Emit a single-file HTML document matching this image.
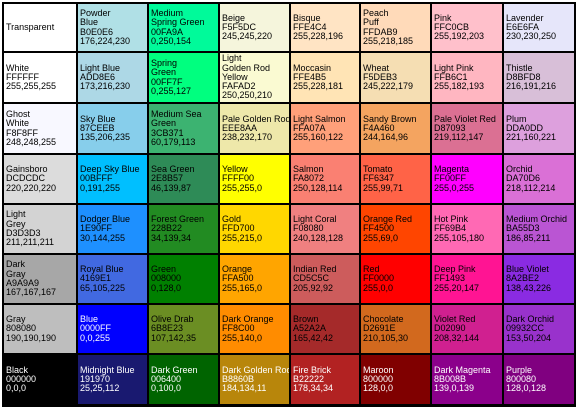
<!DOCTYPE html>
<html><head><meta charset="utf-8"><style>
html,body{margin:0;padding:0;background:#fff;width:577px;height:409px;overflow:hidden}
#grid{position:absolute;left:2px;top:2px;width:574px;height:405px;background:#000}
.cell{position:absolute;display:flex;align-items:center;box-sizing:border-box;padding-left:2px;font-family:"Liberation Sans","DejaVu Sans",sans-serif;font-size:9px;line-height:9.3px;color:#000;letter-spacing:0;white-space:nowrap;overflow:hidden}
</style></head><body>
<div id="grid"></div>
<script>
const colLines=[2,76,147,218,289,359,430,502,574];
const rowLines=[2,51,102,153,203,253,303,353,404];
const names=[
["Transparent","Powder<br>Blue","Medium<br>Spring Green","Beige","Bisque","Peach<br>Puff","Pink","Lavender"],
["White","Light Blue","Spring<br>Green","Light<br>Golden Rod<br>Yellow","Moccasin","Wheat","Light Pink","Thistle"],
["Ghost<br>White","Sky Blue","Medium Sea<br>Green","Pale Golden Rod","Light Salmon","Sandy Brown","Pale Violet Red","Plum"],
["Gainsboro","Deep Sky Blue","Sea Green","Yellow","Salmon","Tomato","Magenta","Orchid"],
["Light<br>Grey","Dodger Blue","Forest Green","Gold","Light Coral","Orange Red","Hot Pink","Medium Orchid"],
["Dark<br>Gray","Royal Blue","Green","Orange","Indian Red","Red","Deep Pink","Blue Violet"],
["Gray","Blue","Olive Drab","Dark Orange","Brown","Chocolate","Violet Red","Dark Orchid"],
["Black","Midnight Blue","Dark Green","Dark Golden Rod","Fire Brick","Maroon","Dark Magenta","Purple"]];
const hexes=[
["","B0E0E6","00FA9A","F5F5DC","FFE4C4","FFDAB9","FFC0CB","E6E6FA"],
["FFFFFF","ADD8E6","00FF7F","FAFAD2","FFE4B5","F5DEB3","FFB6C1","D8BFD8"],
["F8F8FF","87CEEB","3CB371","EEE8AA","FFA07A","F4A460","D87093","DDA0DD"],
["DCDCDC","00BFFF","2E8B57","FFFF00","FA8072","FF6347","FF00FF","DA70D6"],
["D3D3D3","1E90FF","228B22","FFD700","F08080","FF4500","FF69B4","BA55D3"],
["A9A9A9","4169E1","008000","FFA500","CD5C5C","FF0000","FF1493","8A2BE2"],
["808080","0000FF","6B8E23","FF8C00","A52A2A","D2691E","D02090","09932CC"],
["000000","191970","006400","B8860B","B22222","800000","8B008B","800080"]];
const rgbs=[
["","176,224,230","0,250,154","245,245,220","255,228,196","255,218,185","255,192,203","230,230,250"],
["255,255,255","173,216,230","0,255,127","250,250,210","255,228,181","245,222,179","255,182,193","216,191,216"],
["248,248,255","135,206,235","60,179,113","238,232,170","255,160,122","244,164,96","219,112,147","221,160,221"],
["220,220,220","0,191,255","46,139,87","255,255,0","250,128,114","255,99,71","255,0,255","218,112,214"],
["211,211,211","30,144,255","34,139,34","255,215,0","240,128,128","255,69,0","255,105,180","186,85,211"],
["167,167,167","65,105,225","0,128,0","255,165,0","205,92,92","255,0,0","255,20,147","138,43,226"],
["190,190,190","0,0,255","107,142,35","255,140,0","165,42,42","210,105,30","208,32,144","153,50,204"],
["0,0,0","25,25,112","0,100,0","184,134,11","178,34,34","128,0,0","139,0,139","128,0,128"]];
const whiteText=[[6,1],[7,0],[7,1],[7,2],[7,3],[7,4],[7,5],[7,6],[7,7]];
const grid=document.getElementById('grid');
for(let r=0;r<8;r++){for(let c=0;c<8;c++){
  const d=document.createElement('div');
  d.className='cell';
  
  
  const x=colLines[c], y=rowLines[r];
  d.style.left=x+'px';d.style.top=y+'px';
  d.style.width=(colLines[c+1]-colLines[c]-2)+'px';
  d.style.height=(rowLines[r+1]-rowLines[r]-2)+'px';
  d.style.background=rgbs[r][c]?'rgb('+rgbs[r][c]+')':'#fff';
  if(whiteText.some(p=>p[0]===r&&p[1]===c))d.style.color='#fff';
  let t=names[r][c];
  if(hexes[r][c])t+='<br>'+hexes[r][c]+'<br>'+rgbs[r][c];
  d.innerHTML='<div>'+t+'</div>';
  grid.appendChild(d);
}}
</script>
</body></html>
